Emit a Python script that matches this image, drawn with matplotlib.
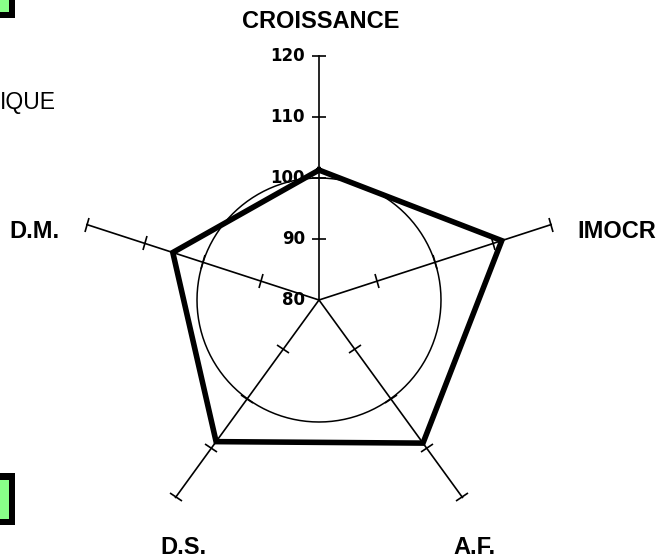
import numpy as np
import matplotlib
matplotlib.use('Agg')
from matplotlib import pyplot as plt
from matplotlib.markers import MarkerStyle
from matplotlib.transforms import Affine2D
from matplotlib.patches import Rectangle

# data
categories = ['CROISSANCE', 'IMOCR', 'A.F.', 'D.S.', 'D.M.']
values = [101.3, 111.5, 109.0, 108.7, 105.2]
ref_level = 100
r_ticks = [80, 90, 100, 110, 120]
r_min, r_max = 80, 120

# label centres in figure pixels (layout only)
label_px = [(321, 22), (617, 232), (474, 547), (183, 547), (34, 232)]

W, H = 657, 558
fig = plt.figure(figsize=(W/100, H/100), dpi=100)

def px2fig(x, y):
  return x/W, 1 - y/H

def px_rect(x0, y0, x1, y1, color):
  fig.add_artist(Rectangle((x0/W, 1 - y1/H), (x1 - x0)/W, (y1 - y0)/H,
                           transform=fig.transFigure, facecolor=color,
                           edgecolor='none'))

cx, cy, R = 319, 300, 244
ax = fig.add_axes([(cx - R)/W, (H - cy - R)/H, 2*R/W, 2*R/H], projection='polar')
ax.set_theta_zero_location('N')
ax.set_theta_direction(-1)
ax.set_ylim(r_min, r_max)
ax.axis('off')

theta = np.linspace(0, 2*np.pi, len(categories), endpoint=False)

# spokes with cross ticks
for t in theta:
  ax.plot([t, t], [r_min, r_max], color='black', lw=1.2, clip_on=False)
  mk = MarkerStyle('_', transform=Affine2D().rotate_deg(180 - np.degrees(t)))
  ax.plot([t]*(len(r_ticks) - 1), r_ticks[1:], ls='none', marker=mk, ms=10,
          mew=1.2, color='black', clip_on=False)

# thin reference ring
ring_t = np.linspace(0, 2*np.pi, 241)
ax.plot(ring_t, np.full_like(ring_t, ref_level), color='black', lw=1.1, clip_on=False)

# main series
ax.plot(np.append(theta, theta[0]), values + values[:1], color='black', lw=4,
        solid_joinstyle='miter', clip_on=False)

# radial tick labels along the top spoke
for r in r_ticks:
  ax.annotate(str(r), xy=(0, r), xytext=(-14, 0), textcoords='offset pixels',
              ha='right', va='center', fontsize=12, fontweight='bold',
              fontfamily='DejaVu Sans', annotation_clip=False)

for cat, (x, y) in zip(categories, label_px):
  fx, fy = px2fig(x, y)
  fig.text(fx, fy, cat, ha='center', va='center', fontsize=17,
           fontweight='bold', fontfamily='Liberation Sans')

# cropped bits on the left edge
fig.text(0, 1 - 109/H, 'IQUE', ha='left', va='baseline', fontsize=16.5,
         fontfamily='Liberation Sans')
px_rect(0, 0, 15, 18, 'black')
px_rect(0, 0, 9, 12, '#88FF88')
px_rect(0, 473, 15, 525, 'black')
px_rect(0, 480, 9, 519, '#88FF88')

fig.savefig('out.png', dpi=100)
